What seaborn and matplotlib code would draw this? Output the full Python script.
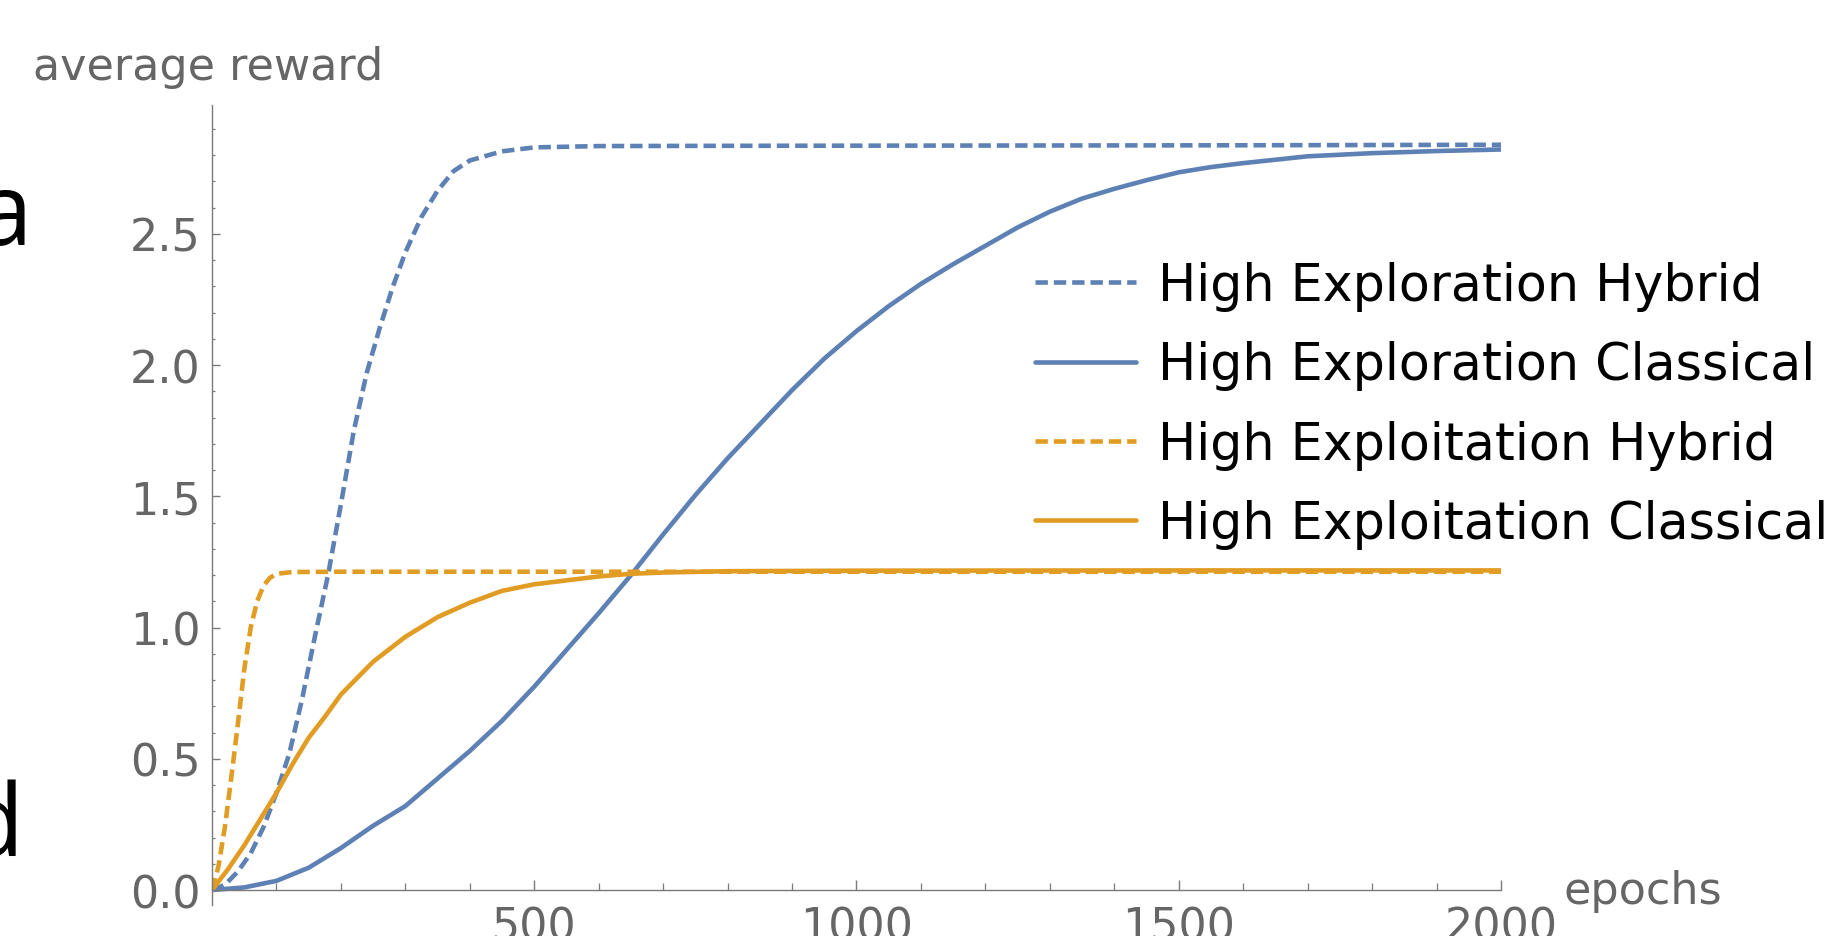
import matplotlib
matplotlib.use('Agg')
import matplotlib.pyplot as plt
import seaborn as sns
import numpy as np
from matplotlib.ticker import MultipleLocator

# curves (epoch, average reward)
heh_x = [0, 20, 40, 60, 80, 100, 120, 140, 160, 180, 200, 220, 240, 260, 280, 300,
         325, 350, 375, 400, 450, 500, 600, 800, 1200, 1600, 2000]
heh_y = [0, 0.02, 0.07, 0.14, 0.24, 0.37, 0.52, 0.73, 0.97, 1.20, 1.47, 1.75, 1.97, 2.14,
         2.295, 2.43, 2.565, 2.665, 2.74, 2.78, 2.815, 2.83, 2.835, 2.836, 2.837, 2.838, 2.84]

hec_x = [0, 50, 100, 150, 200, 250, 300, 350, 400, 450, 500, 550, 600, 650, 700, 750,
         800, 850, 900, 950, 1000, 1050, 1100, 1150, 1200, 1250, 1300, 1350, 1400, 1450,
         1500, 1550, 1600, 1700, 1800, 1900, 2000]
hec_y = [0, 0.01, 0.035, 0.085, 0.16, 0.245, 0.32, 0.425, 0.53, 0.645, 0.775, 0.915,
         1.055, 1.20, 1.355, 1.505, 1.645, 1.775, 1.905, 2.025, 2.13, 2.225, 2.31, 2.385,
         2.455, 2.525, 2.585, 2.635, 2.672, 2.705, 2.735, 2.755, 2.77, 2.796, 2.808,
         2.816, 2.822]

hph_x = [0, 10, 20, 30, 40, 50, 60, 70, 80, 90, 100, 125, 200, 500, 1000, 2000]
hph_y = [0, 0.09, 0.24, 0.43, 0.63, 0.84, 1.00, 1.10, 1.16, 1.19, 1.205, 1.212, 1.213,
         1.213, 1.213, 1.213]

hpc_x = [0, 25, 50, 75, 100, 125, 150, 175, 200, 250, 300, 350, 400, 450, 500, 550, 600,
         650, 700, 800, 1000, 1500, 2000]
hpc_y = [0, 0.08, 0.17, 0.27, 0.37, 0.48, 0.58, 0.66, 0.745, 0.87, 0.965, 1.04, 1.095,
         1.14, 1.165, 1.18, 1.195, 1.205, 1.21, 1.215, 1.217, 1.218, 1.218]

labels = ['High Exploration Hybrid', 'High Exploration Classical',
          'High Exploitation Hybrid', 'High Exploitation Classical']

blue = '#5E81B5'
orange = '#E19C24'
axcol = '#7a7a7a'
txtcol = '#666666'
dash = (0, (2.7, 1.3))

sns.set_style('ticks')
plt.rcParams['font.family'] = ['DejaVu Sans']

fig = plt.figure(figsize=(18.27, 9.37), dpi=100)
ax = fig.add_axes([0.11604, 0.03308, 0.70552, 0.85337])

series = [(heh_x, heh_y, blue, dash), (hec_x, hec_y, blue, '-'),
          (hph_x, hph_y, orange, dash), (hpc_x, hpc_y, orange, '-')]
for (xs, ys, col, ls), name in zip(series, labels):
    sns.lineplot(x=xs, y=ys, ax=ax, color=col, linewidth=3.3, linestyle=ls, label=name)

ax.set_xlim(0, 2000)
ax.set_ylim(-0.057, 2.99)
sns.despine(ax=ax)
ax.spines['bottom'].set_position(('data', 0))
for s in ['left', 'bottom']:
    ax.spines[s].set_color(axcol)
    ax.spines[s].set_linewidth(1.0)

ax.set_xticks([500, 1000, 1500, 2000])
ax.set_xticklabels(['500', '1000', '1500', '2000'])
ax.xaxis.set_minor_locator(MultipleLocator(100))
ax.set_yticks([0, 0.5, 1.0, 1.5, 2.0, 2.5])
ax.set_yticklabels(['0.0', '0.5', '1.0', '1.5', '2.0', '2.5'])
ax.yaxis.set_minor_locator(MultipleLocator(0.1))

ax.tick_params(axis='x', which='major', direction='in', length=7.2, width=1.0, color=axcol,
               pad=11, labelsize=32, labelcolor=txtcol)
ax.tick_params(axis='x', which='minor', direction='in', length=4.8, width=0.9, color=axcol)
ax.tick_params(axis='y', which='major', direction='in', length=5.8, width=1.0, color=axcol,
               pad=8, labelsize=32, labelcolor=txtcol)
ax.tick_params(axis='y', which='minor', direction='in', length=2.4, width=0.9, color=axcol)
ax.set_xlabel('')
ax.set_ylabel('')

fig.text(0.018, 0.9146, 'average reward', va='baseline', fontsize=32, color=txtcol)
fig.text(0.856, 0.0352, 'epochs', va='baseline', fontsize=32, color=txtcol)

leg = ax.legend(loc='upper left', bbox_to_anchor=(1035 / 1827, 1 - 262 / 937),
                bbox_transform=fig.transFigure, frameon=False, fontsize=36.5,
                handlelength=2.0, handletextpad=0.42, labelspacing=0.58,
                borderpad=0, borderaxespad=0)
for t in leg.get_texts():
    t.set_color('black')

# pieces of neighbouring text cut off at the left edge
fig.text(32 / 1827, 1 - 245 / 937, 'a', ha='right', va='baseline', fontsize=72,
         family='Open Sans', color='black')
fig.text(24 / 1827, 1 - 856 / 937, 'd', ha='right', va='baseline', fontsize=72,
         family='Open Sans', color='black')

fig.savefig('out.png', dpi=100)
